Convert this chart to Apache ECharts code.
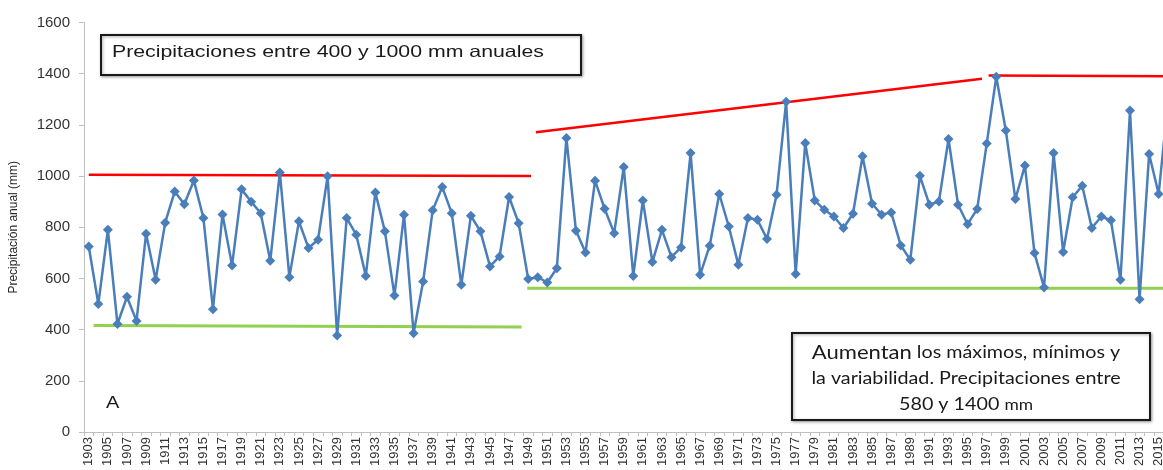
<!DOCTYPE html>
<html><head><meta charset="utf-8">
<script src="https://cdn.jsdelivr.net/npm/echarts@6/dist/echarts.min.js"></script>
<style>html,body{margin:0;padding:0;background:#fff;overflow:hidden;width:1163px;height:470px}#c{width:1173px;height:470px}</style>
</head><body><div id="c"></div>
<script>
// Categories: years 1903..2016
const years = [];
for (let y = 1903; y <= 2016; y++) years.push(String(y));

// Annual precipitation (mm)
const precip = [
  725, 500, 790, 422, 528, 434, 775, 595, 818, 940,   // 1903-1912
  890, 983, 836, 480, 850, 651, 948, 900, 855, 669,   // 1913-1922
  1014, 605, 823, 719, 751, 999, 377, 836, 771, 610,  // 1923-1932
  936, 784, 533, 849, 386, 588, 866, 957, 855, 575,   // 1933-1942
  845, 784, 647, 686, 918, 816, 598, 605, 584, 640,   // 1943-1952
  1149, 786, 701, 982, 872, 777, 1035, 610, 905, 664, // 1953-1962
  790, 683, 721, 1090, 614, 728, 930, 803, 653, 836,  // 1963-1972
  829, 754, 927, 1290, 617, 1129, 905, 868, 842, 797, // 1973-1982
  853, 1077, 892, 849, 858, 729, 673, 1001, 888, 901, // 1983-1992
  1145, 888, 812, 871, 1127, 1388, 1178, 910, 1041, 699, // 1993-2002
  565, 1090, 703, 917, 962, 797, 842, 827, 595, 1256, // 2003-2012
  519, 1086, 930, 1300                                // 2013-2016
];

// Envelope lines (year, mm)
const maxLine1 = [[1903, 1005], [1949.3, 1000]];
const maxLine2 = [[1949.8, 1171], [1996.5, 1380]];
const maxLine3 = [[1997.2, 1393], [2016.5, 1390]];
const minLine1 = [[1903.5, 416], [1948.3, 410]];
const minLine2 = [[1948.9, 562], [2016.5, 562]];

const yTicks = { min: 0, max: 1600, interval: 200 };

const chart = echarts.init(document.getElementById('c'), null, { renderer: 'canvas' });
const redStyle = { color: '#ff0000', width: 2.5 };
const greenStyle = { color: '#92d050', width: 3 };
function seg(data, style) {
  return { type: 'line', xAxisIndex: 1, data: data, symbol: 'none', lineStyle: style, silent: true, z: 1, animation: false };
}
chart.setOption({
  animation: false,
  backgroundColor: '#ffffff',
  grid: { left: 83, top: 22.5, bottom: 38, right: 0, containLabel: false },
  xAxis: [{
    type: 'category', data: years, boundaryGap: true,
    axisLine: { lineStyle: { color: '#bfbfbf', width: 1 } },
    axisTick: { show: true, interval: 0, length: 4, lineStyle: { color: '#bfbfbf' } },
    axisLabel: { interval: 1, rotate: 90, fontSize: 13, color: '#333333', fontFamily: 'Liberation Sans', margin: 5 },
    splitLine: { show: false }
  }, {
    type: 'value', min: 1902.5, max: 2016.5, show: false
  }],
  yAxis: {
    type: 'value', min: yTicks.min, max: yTicks.max, interval: yTicks.interval,
    name: 'Precipitación anual (mm)', nameLocation: 'middle', nameGap: 64, nameRotate: 90,
    nameTextStyle: { fontSize: 12, color: '#262626', fontFamily: 'Liberation Sans' },
    axisLine: { show: true, lineStyle: { color: '#bfbfbf', width: 1 } },
    axisTick: { show: true, length: 5, lineStyle: { color: '#bfbfbf' } },
    axisLabel: { fontSize: 15, color: '#333333', fontFamily: 'Liberation Sans', margin: 14,
      formatter: function (v) { return String(v); } },
    splitLine: { show: false }
  },
  series: [
    seg(maxLine1, redStyle), seg(maxLine2, redStyle), seg(maxLine3, redStyle),
    seg(minLine1, greenStyle), seg(minLine2, greenStyle),
    {
      type: 'line', data: precip, symbol: 'diamond', symbolSize: 10, showAllSymbol: true, z: 3,
      itemStyle: { color: '#4a7ebb' },
      lineStyle: { color: '#4a7ebb', width: 2.5 }
    }
  ],
  graphic: [
    { type: 'rect', shape: { x: 101, y: 35, width: 480, height: 40 },
      style: { fill: '#fff', stroke: '#1a1a1a', lineWidth: 2, shadowBlur: 3, shadowColor: 'rgba(0,0,0,0.35)', shadowOffsetX: 1, shadowOffsetY: 1 }, z: 10 },
    { type: 'text', x: 112, y: 52, scaleX: 1.29, z: 11,
      style: { text: 'Precipitaciones entre 400 y 1000 mm anuales', fontSize: 16.5, fontFamily: 'Liberation Sans', fill: '#1a1a1a', verticalAlign: 'middle' } },
    { type: 'rect', shape: { x: 792, y: 333, width: 358, height: 87 },
      style: { fill: '#fff', stroke: '#1a1a1a', lineWidth: 2, shadowBlur: 3, shadowColor: 'rgba(0,0,0,0.35)', shadowOffsetX: 1, shadowOffsetY: 1 }, z: 10 },
    { type: 'text', x: 966, y: 340, scaleX: 1.16, z: 11,
      style: { text: '{a|Aumentan} los máximos, mínimos y\nla variabilidad. Precipitaciones entre\n580 y 1400 {m|mm}',
        align: 'center', verticalAlign: 'top', fontSize: 17, lineHeight: 26, fontFamily: 'Lato', fill: '#1a1a1a',
        rich: { a: { fontSize: 19, fontFamily: 'Lato', fill: '#1a1a1a', lineHeight: 26 },
                m: { fontSize: 15, fontFamily: 'Lato', fill: '#1a1a1a', lineHeight: 26 } } } },
    { type: 'text', x: 106, y: 404, scaleX: 1.25, z: 11,
      style: { text: 'A', fontSize: 16, fontFamily: 'Liberation Sans', fill: '#1a1a1a', verticalAlign: 'middle' } }
  ]
});
</script>
</body></html>
